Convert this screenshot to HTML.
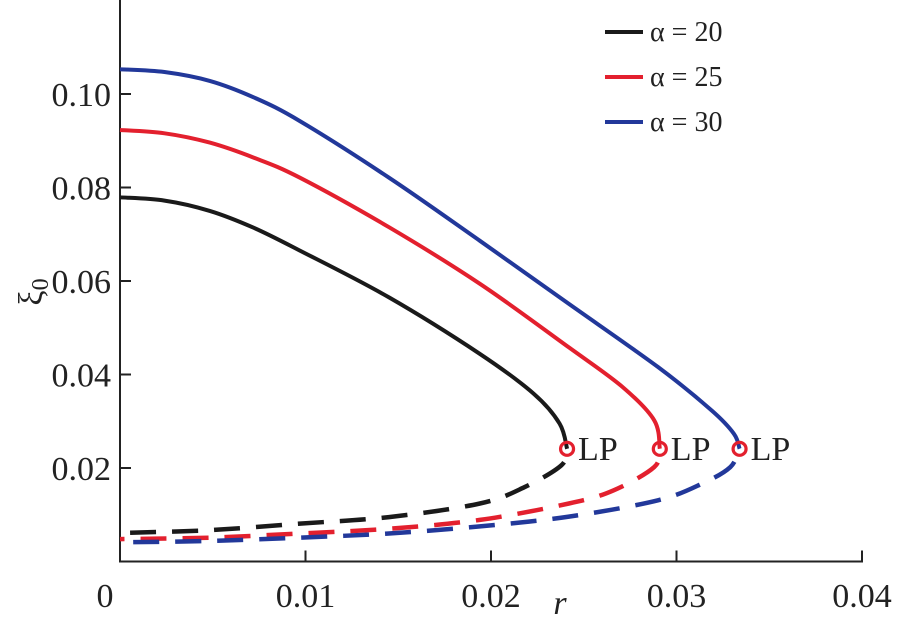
<!DOCTYPE html>
<html><head><meta charset="utf-8"><style>
html,body{margin:0;padding:0;background:#fff;}
svg{display:block;}
text{font-family:"Liberation Serif","Times New Roman",serif;}
</style></head><body>
<svg id="chart" width="899" height="628" viewBox="0 0 899 628" xmlns="http://www.w3.org/2000/svg" font-family="Liberation Serif, serif">
<g id="axes"></g>
<g id="series"></g>
<g id="legend"></g>
</svg>
<script>
const xTicks = [0, 0.01, 0.02, 0.03, 0.04];
const xTickLabels = ["0", "0.01", "0.02", "0.03", "0.04"];
const yTicks = [0.02, 0.04, 0.06, 0.08, 0.10];
const yTickLabels = ["0.02", "0.04", "0.06", "0.08", "0.10"];
const seriesNames = ["α = 20", "α = 25", "α = 30"];
const seriesColors = ["#1a1a1a", "#e3202e", "#22389a"];
// stable (upper) branches [r, xi]
const upper20 = [[0,0.0779],[0.0024,0.0772],[0.00484,0.0750],[0.0072,0.0714],[0.0097,0.0665],[0.0145,0.0565],[0.0194,0.0444],[0.0223,0.0359],[0.0237,0.0295],[0.0241,0.0241]];
const upper25 = [[0,0.0923],[0.0024,0.0916],[0.00484,0.0896],[0.0072,0.0864],[0.0097,0.0821],[0.0145,0.0715],[0.0194,0.0594],[0.0242,0.0458],[0.0271,0.0373],[0.0288,0.0302],[0.0291,0.0241]];
const upper30 = [[0,0.1053],[0.0024,0.1047],[0.00484,0.1028],[0.0072,0.0993],[0.0097,0.0942],[0.0145,0.0821],[0.0194,0.0686],[0.0242,0.0551],[0.029,0.0416],[0.0319,0.0323],[0.0331,0.0273],[0.0334,0.0241]];
// unstable (lower) branches
const lower20 = [[0.0241,0.0241],[0.0238,0.0206],[0.0218,0.0159],[0.0194,0.0124],[0.0145,0.0095],[0.0097,0.0081],[0.0048,0.0067],[0,0.0061]];
const lower25 = [[0.0291,0.0241],[0.0288,0.0202],[0.0266,0.0152],[0.0242,0.0124],[0.0194,0.0089],[0.0145,0.0070],[0.0097,0.0060],[0.0048,0.0051],[0,0.0048]];
const lower30 = [[0.0334,0.0241],[0.0329,0.0202],[0.0314,0.0167],[0.029,0.0131],[0.0242,0.0096],[0.0194,0.0075],[0.0145,0.0060],[0.0097,0.0051],[0.0048,0.0044],[0,0.0041]];
const lpPoints = [[0.0241,0.0241],[0.0291,0.0241],[0.0334,0.0241]];

const NS="http://www.w3.org/2000/svg";
const X0=120, XS=18550, Y0=561.5, YS=4675;
const sx=r=>X0+r*XS, sy=v=>Y0-v*YS;
const FF='Liberation Serif, serif';
function mk(tag,attrs,parent){const e=document.createElementNS(NS,tag);for(const k in attrs)e.setAttribute(k,attrs[k]);parent.appendChild(e);return e;}
const axes=document.getElementById('axes'), ser=document.getElementById('series'), leg=document.getElementById('legend');

let e=mk('line',{x1:X0,y1:0,x2:X0,y2:Y0+1,stroke:'#222','stroke-width':2},axes);

e=mk('line',{x1:X0-1,y1:Y0,x2:sx(0.04)+1,y2:Y0,stroke:'#222','stroke-width':2},axes);

xTicks.forEach((t,i)=>{
  const x=sx(t);
  if(i>0){const tk=mk('line',{x1:x,y1:Y0,x2:x,y2:Y0-11,stroke:'#222','stroke-width':2},axes);
  }
  const tx=mk('text',{x:i==0?x-15:x,y:607,'text-anchor':'middle','font-size':34,fill:'#222','font-family':FF},axes);
  tx.textContent=xTickLabels[i];
  
});
yTicks.forEach((t,i)=>{
  const y=sy(t);
  const tk=mk('line',{x1:X0,y1:y,x2:X0+11,y2:y,stroke:'#222','stroke-width':2},axes);
  
  const tx=mk('text',{x:111,y:y+12,'text-anchor':'end','font-size':34,fill:'#222','font-family':FF},axes);
  tx.textContent=yTickLabels[i];
  
});
e=mk('text',{x:560,y:614,'font-size':34,'font-style':'italic',fill:'#222','text-anchor':'middle','font-family':FF},axes);
e.textContent='r';
e=mk('text',{x:0,y:0,'font-size':34,fill:'#222',transform:'translate(42,292) rotate(-90)','text-anchor':'middle','font-family':FF},axes);
e.innerHTML='ξ<tspan font-size="24" dy="6">0</tspan>';


function smooth(pts){
  const P=pts.map(p=>[sx(p[0]),sy(p[1])]);let d='M'+P[0][0]+' '+P[0][1];
  for(let i=0;i<P.length-1;i++){const p0=P[Math.max(0,i-1)],p1=P[i],p2=P[i+1],p3=P[Math.min(P.length-1,i+2)];
    d+=' C'+(p1[0]+(p2[0]-p0[0])/6).toFixed(1)+' '+(p1[1]+(p2[1]-p0[1])/6).toFixed(1)+' '+(p2[0]-(p3[0]-p1[0])/6).toFixed(1)+' '+(p2[1]-(p3[1]-p1[1])/6).toFixed(1)+' '+p2[0].toFixed(1)+' '+p2[1].toFixed(1);}
  return d;}
const uppers=[upper20,upper25,upper30], lowers=[lower20,lower25,lower30];
uppers.forEach((u,i)=>{
  const p=mk('path',{d:smooth(u),fill:'none',stroke:seriesColors[i],'stroke-width':4},ser);
  
});
lowers.forEach((u,i)=>{
  const p=mk('path',{d:smooth(u),fill:'none',stroke:seriesColors[i],'stroke-width':4.5,'stroke-dasharray':'26 16','stroke-dashoffset':'-14'},ser);
  
});
lpPoints.forEach((p,i)=>{
  const c=mk('circle',{cx:sx(p[0]),cy:sy(p[1]),r:6.5,fill:'none',stroke:'#e3202e','stroke-width':3.2},ser);
  
  const t=mk('text',{x:sx(p[0])+11,y:sy(p[1])+11,'font-size':34,fill:'#222','font-family':FF},ser);
  t.textContent='LP';
});
seriesNames.forEach((n,i)=>{
  const y=32+i*45;
  const l=mk('line',{x1:605,y1:y,x2:643,y2:y,stroke:seriesColors[i],'stroke-width':4},leg);
  
  const t=mk('text',{x:650,y:y+9,'font-size':28,fill:'#222','font-family':FF},leg);
  t.textContent=n;
});
</script>
</body></html>
